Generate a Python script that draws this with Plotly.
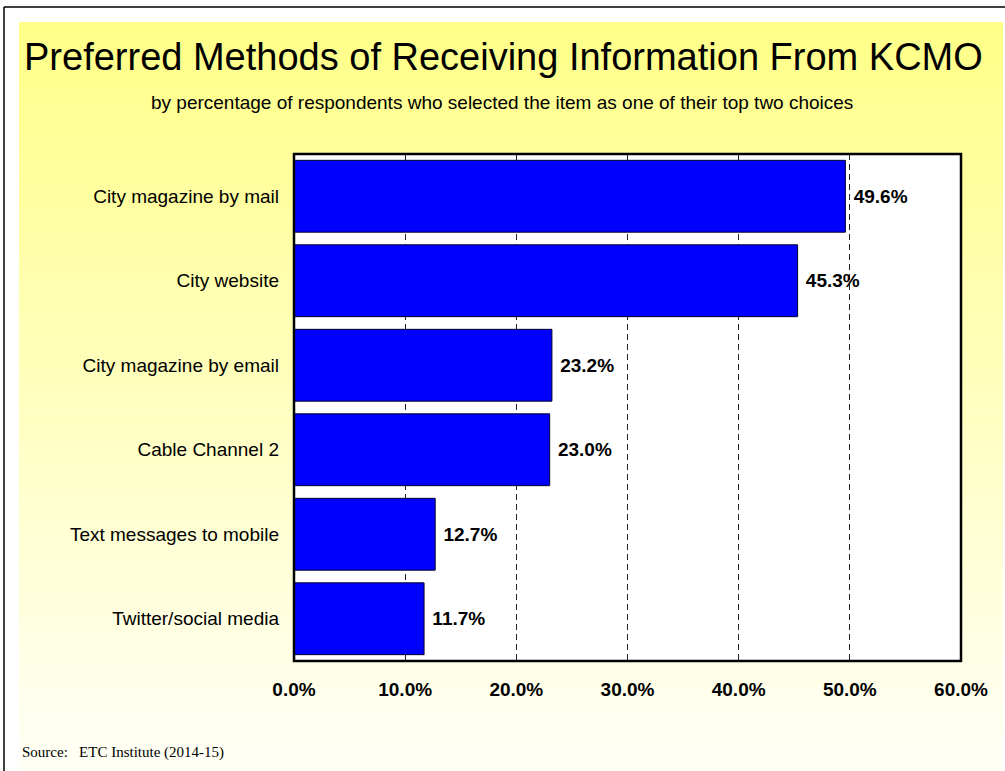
import plotly.graph_objects as go

# Survey results: share of respondents naming each channel in their top two
methods = [
    "City magazine by mail",
    "City website",
    "City magazine by email",
    "Cable Channel 2",
    "Text messages to mobile",
    "Twitter/social media",
]
percentages = [49.6, 45.3, 23.2, 23.0, 12.7, 11.7]
tick_values = [0, 10, 20, 30, 40, 50, 60]
tick_labels = ["0.0%", "10.0%", "20.0%", "30.0%", "40.0%", "50.0%", "60.0%"]

W, H = 1005, 771
ML, MR, MT, MB = 294, 44, 154, 110
px_w = W - ML - MR
px_h = H - MT - MB


def px_x(x):
    return (x - ML) / px_w


def px_y(y):
    return (H - MB - y) / px_h


fig = go.Figure(
    go.Bar(
        y=methods,
        x=percentages,
        orientation="h",
        width=0.85,
        marker=dict(color="#0000FF", line=dict(color="#00002A", width=1)),
        text=[f" {v:.1f}%" for v in percentages],
        textposition="outside",
        cliponaxis=False,
        textfont=dict(family="Liberation Sans, Arial", size=19, color="#000000",
                      weight="bold"),
        hoverinfo="skip",
    )
)

# Vertical yellow-to-cream gradient band behind the chart
shapes = []
top_px, bot_px = 22, H
steps = 80
c0 = (255, 255, 136)
c1 = (255, 255, 246)
for i in range(steps):
    t = i / (steps - 1)
    r = round(c0[0] + (c1[0] - c0[0]) * t)
    g = round(c0[1] + (c1[1] - c0[1]) * t)
    b = round(c0[2] + (c1[2] - c0[2]) * t)
    y0 = top_px + (bot_px - top_px) * i / steps
    y1 = top_px + (bot_px - top_px) * (i + 1) / steps + 0.6
    shapes.append(dict(
        type="rect", xref="paper", yref="paper", layer="below",
        x0=px_x(19), x1=px_x(1003), y0=px_y(y1), y1=px_y(y0),
        line=dict(width=0), fillcolor=f"rgb({r},{g},{b})",
    ))

# Outer frame lines (top and left)
shapes.append(dict(
    type="line", xref="paper", yref="paper",
    x0=px_x(4), x1=px_x(W + 5), y0=px_y(7), y1=px_y(7),
    line=dict(color="#000000", width=1.5),
))
shapes.append(dict(
    type="line", xref="paper", yref="paper",
    x0=px_x(4), x1=px_x(4), y0=px_y(7), y1=px_y(H + 5),
    line=dict(color="#000000", width=1.5),
))
# White plotting area with black frame
shapes.append(dict(
    type="rect", xref="x domain", yref="y domain", layer="below",
    x0=0, x1=1, y0=0, y1=1, line=dict(width=0), fillcolor="#FFFFFF",
))
shapes.append(dict(
    type="rect", xref="x domain", yref="y domain", layer="above",
    x0=0, x1=1, y0=0, y1=1, line=dict(color="#000000", width=2.5),
))

fig.update_layout(
    width=W,
    height=H,
    margin=dict(l=ML, r=MR, t=MT, b=MB),
    paper_bgcolor="#FFFFFF",
    plot_bgcolor="#FFFFFF",
    showlegend=False,
    shapes=shapes,
    font=dict(family="Liberation Sans, Arial", color="#000000"),
    annotations=[
        dict(
            text="Preferred Methods of Receiving Information From KCMO",
            xref="paper", yref="paper",
            x=px_x(503), y=px_y(57),
            xanchor="center", yanchor="middle", showarrow=False,
            font=dict(family="Liberation Sans, Arial", size=38, color="#000000"),
        ),
        dict(
            text="by percentage of respondents who selected the item as one of their top two choices",
            xref="paper", yref="paper",
            x=px_x(502), y=px_y(103),
            xanchor="center", yanchor="middle", showarrow=False,
            font=dict(family="Liberation Sans, Arial", size=19, color="#000000"),
        ),
        dict(
            text="Source:&nbsp;&nbsp;&nbsp;ETC Institute (2014-15)",
            xref="paper", yref="paper",
            x=px_x(20), y=px_y(752),
            xanchor="left", yanchor="middle", showarrow=False,
            font=dict(family="Liberation Serif, Times New Roman", size=15, color="#000000"),
        ),
    ],
)

fig.update_xaxes(
    range=[0, 60],
    tickvals=tick_values,
    ticktext=tick_labels,
    showgrid=True,
    gridcolor="#222222",
    gridwidth=1,
    griddash="6px,4px",
    zeroline=False,
    ticks="",
    ticklabelstandoff=15,
    tickfont=dict(family="Liberation Sans, Arial", size=19, color="#000000", weight="bold"),
    showline=False,
    fixedrange=True,
)
fig.update_yaxes(
    categoryorder="array",
    categoryarray=methods,
    autorange="reversed",
    showgrid=False,
    zeroline=False,
    ticks="",
    ticklabelstandoff=14,
    tickfont=dict(family="Liberation Sans, Arial", size=19, color="#000000"),
    showline=False,
    fixedrange=True,
)

fig.write_html("out.html", config={"displayModeBar": False})
